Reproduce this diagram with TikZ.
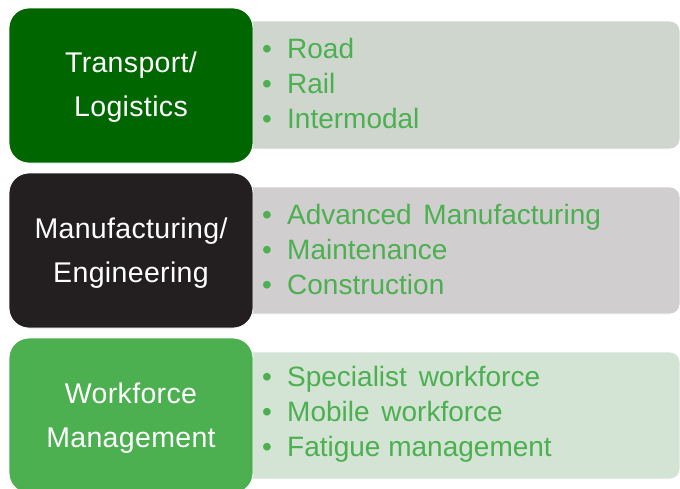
\documentclass[tikz,border=0pt]{standalone}
\usepackage{fontspec}
\setmainfont{Liberation Sans}
\newfontfamily\catfont[LetterSpace=1.2]{Liberation Sans}
\newfontfamily\listfont{Liberation Sans}
\definecolor{gOne}{RGB}{0,102,0}
\definecolor{gOneL}{RGB}{207,214,206}
\definecolor{bTwo}{RGB}{35,31,32}
\definecolor{bTwoL}{RGB}{208,206,207}
\definecolor{gThree}{RGB}{76,175,80}
\definecolor{gThreeL}{RGB}{211,227,212}
\definecolor{txtG}{RGB}{76,175,80}
\tikzset{
  catbox/.style={draw=white, line width=0.8pt, rounded corners=20pt},
  listbox/.style={draw=white, line width=0.8pt, rounded corners=10pt},
  cattext/.style={text=white, align=center, font=\catfont\fontsize{28.5}{43.5}\selectfont, inner sep=0pt},
  listtext/.style={text=txtG, align=left, anchor=west, font=\listfont\fontsize{28}{35}\selectfont, inner sep=0pt},
}
\newcommand{\bitem}[1]{\makebox[25pt][l]{•}#1}
\begin{document}
\begin{tikzpicture}[x=1pt,y=-1pt]
\useasboundingbox (0,0) rectangle (680,488);
% row 1
\fill[gOneL, listbox] (230,21) rectangle (680,149);
\fill[gOne, catbox] (9,8) rectangle (253,163);
\node[cattext] (c1) at (131,87) {Transport/\\Logistics};
\node[listtext] (l1) at (262,83) {\bitem{Road}\\\bitem{Rail}\\\bitem{Intermodal}};
% row 2
\fill[bTwoL, listbox] (230,187) rectangle (680,314);
\fill[bTwo, catbox] (9,173) rectangle (253,328);
\node[cattext] (c2) at (131,253) {Manufacturing/\\Engineering};
\node[listtext] (l2) at (262,249) {\bitem{Advanced\hspace{4pt} Manufacturing}\\\bitem{Maintenance}\\\bitem{Construction}};
% row 3
\fill[gThreeL, listbox] (230,352) rectangle (680,479);
\fill[gThree, catbox] (9,338) rectangle (253,493);
\node[cattext] (c3) at (131,418) {Workforce\\Management};
\node[listtext] (l3) at (262,414) {\bitem{Specialist\hspace{4pt} workforce}\\\bitem{Mobile\hspace{4pt} workforce}\\\bitem{Fatigue management}};
\end{tikzpicture}
\end{document}
